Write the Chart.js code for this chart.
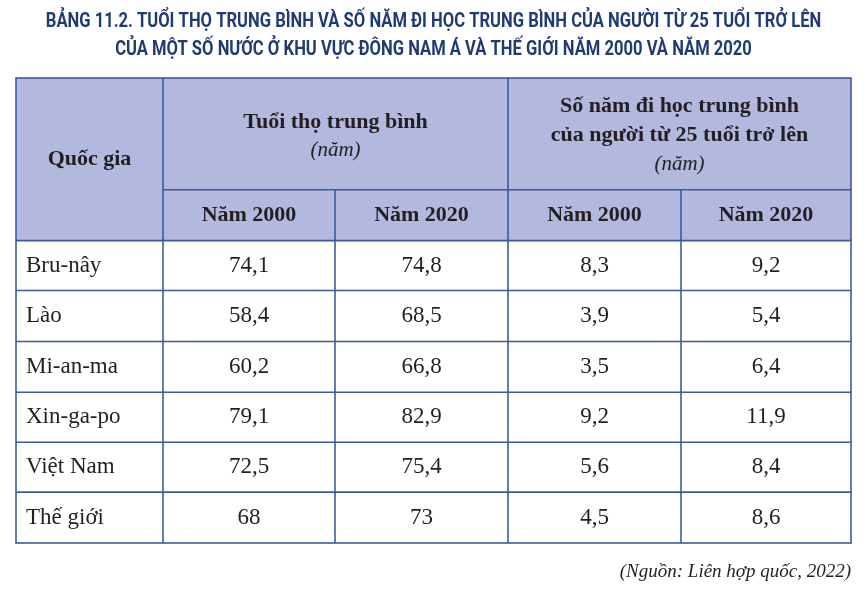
<!DOCTYPE html>
<html><head><meta charset="utf-8">
<script src="https://cdn.jsdelivr.net/npm/chart.js@4/dist/chart.umd.min.js"></script>
<style>html,body{margin:0;padding:0;background:#fff;}#wrap{width:867px;height:595px;position:relative;}</style>
</head><body><div id="wrap"><canvas id="c"></canvas></div>
<script>
const titleLines = ["BẢNG 11.2. TUỔI THỌ TRUNG BÌNH VÀ SỐ NĂM ĐI HỌC TRUNG BÌNH CỦA NGƯỜI TỪ 25 TUỔI TRỞ LÊN","CỦA MỘT SỐ NƯỚC Ở KHU VỰC ĐÔNG NAM Á VÀ THẾ GIỚI NĂM 2000 VÀ NĂM 2020"];
const countries = ["Bru-nây","Lào","Mi-an-ma","Xin-ga-po","Việt Nam","Thế giới"];
const life2000 = ["74,1","58,4","60,2","79,1","72,5","68"];
const life2020 = ["74,8","68,5","66,8","82,9","75,4","73"];
const school2000 = ["8,3","3,9","3,5","9,2","5,6","4,5"];
const school2020 = ["9,2","5,4","6,4","11,9","8,4","8,6"];
const yearLabels = ["Năm 2000","Năm 2020","Năm 2000","Năm 2020"];
const source = "(Nguồn: Liên hợp quốc, 2022)";

const colW=[147,172,173,173,170]; const rowH=[112,51,50,51,51,50,50,51];
const serif='"Liberation Serif","DejaVu Serif",serif';
const tablePlugin={id:'table',afterDraw(chart){
 const ctx=chart.ctx,a=chart.chartArea;
 const sx=(a.right-a.left)/colW.reduce((p,q)=>p+q), sy=(a.bottom-a.top)/rowH.reduce((p,q)=>p+q);
 const X=[a.left];colW.forEach(w=>X.push(X[X.length-1]+w*sx));
 const Y=[a.top];rowH.forEach(h=>Y.push(Y[Y.length-1]+h*sy));
 ctx.save();
 ctx.fillStyle='#b3b8df';ctx.fillRect(X[0],Y[0],X[5]-X[0],Y[2]-Y[0]);
 ctx.strokeStyle='#3d5a99';ctx.lineWidth=1.6;
 ctx.strokeRect(X[0],Y[0],X[5]-X[0],Y[8]-Y[0]);
 const line=(x1,y1,x2,y2)=>{ctx.beginPath();ctx.moveTo(x1,y1);ctx.lineTo(x2,y2);ctx.stroke();};
 line(X[1],Y[0],X[1],Y[8]);line(X[3],Y[0],X[3],Y[8]);
 line(X[2],Y[1],X[2],Y[8]);line(X[4],Y[1],X[4],Y[8]);
 line(X[1],Y[1],X[5],Y[1]);
 for(let r=2;r<8;r++)line(X[0],Y[r],X[5],Y[r]);
 ctx.fillStyle='#231f20';ctx.textBaseline='middle';ctx.textAlign='center';
 const mid=(i,j)=>(i+j)/2;
 ctx.font='bold 22px '+serif;
 ctx.fillText("Quốc gia",mid(X[0],X[1]),mid(Y[0],Y[2]));
 ctx.fillText("Tuổi thọ trung bình",mid(X[1],X[3]),Y[0]+44);
 ctx.fillText("Số năm đi học trung bình",mid(X[3],X[5]),Y[0]+28);
 ctx.fillText("của người từ 25 tuổi trở lên",mid(X[3],X[5]),Y[0]+57);
 yearLabels.forEach((t,i)=>ctx.fillText(t,mid(X[i+1],X[i+2]),mid(Y[1],Y[2])));
 ctx.font='italic 21px '+serif;
 ctx.fillText("(năm)",mid(X[1],X[3]),Y[0]+72);
 ctx.fillText("(năm)",mid(X[3],X[5]),Y[0]+86);
 ctx.font='23px '+serif;
 const cols=[life2000,life2020,school2000,school2020];
 countries.forEach((c,r)=>{const y=mid(Y[r+2],Y[r+3]);
  ctx.textAlign='left';ctx.fillText(c,X[0]+10,y);ctx.textAlign='center';
  cols.forEach((col,i)=>ctx.fillText(col[r],mid(X[i+1],X[i+2]),y));});
 ctx.font='bold 21px Roboto,sans-serif';ctx.fillStyle='#1f3b73';
 titleLines.forEach((t,i)=>{ctx.save();ctx.translate(chart.width/2,22+i*28);ctx.scale(0.79,1);ctx.fillText(t,0,0);ctx.restore();});
 ctx.font='italic 19px '+serif;ctx.fillStyle='#231f20';ctx.textAlign='right';
 ctx.fillText(source,a.right,572);
 ctx.restore();}};
new Chart(document.getElementById('c'),{type:'bar',data:{labels:countries,datasets:[{data:[],label:''}]},
 options:{responsive:true,maintainAspectRatio:false,animation:false,
  layout:{padding:{top:78,left:16,right:16,bottom:52}},
  plugins:{legend:{display:false},tooltip:{enabled:false}},
  scales:{x:{display:false},y:{display:false}}},plugins:[tablePlugin]});
</script></body></html>
